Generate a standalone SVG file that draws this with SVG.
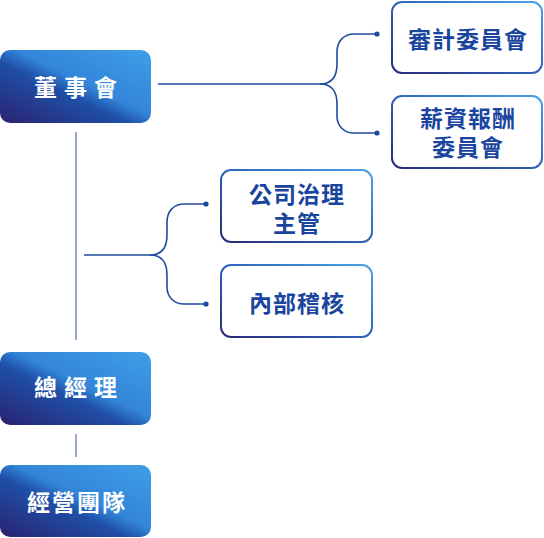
<svg xmlns="http://www.w3.org/2000/svg" width="544" height="538" viewBox="0 0 544 538">
<defs>
<linearGradient id="gFill" x1="0" y1="1" x2="1" y2="0">
<stop offset="0" stop-color="#2b2270"/>
<stop offset="0.42" stop-color="#1e4fa6"/>
<stop offset="0.55" stop-color="#3385d8"/>
<stop offset="1" stop-color="#3f9fe8"/>
</linearGradient>
<linearGradient id="gStroke" x1="0" y1="1" x2="1" y2="0">
<stop offset="0" stop-color="#2a2a78"/>
<stop offset="0.5" stop-color="#2f63b8"/>
<stop offset="1" stop-color="#4aa3ea"/>
</linearGradient>
<style>
.dark{fill:url(#gFill);}
.light{fill:#ffffff;stroke:url(#gStroke);stroke-width:2;}
.wt{fill:#ffffff;font-family:"Noto Sans CJK TC","Noto Sans CJK SC",sans-serif;font-weight:700;font-size:23px;text-anchor:middle;dominant-baseline:central;}
.bt{fill:#1a459e;font-family:"Noto Sans CJK TC","Noto Sans CJK SC",sans-serif;font-weight:700;font-size:23px;text-anchor:middle;dominant-baseline:central;}
.ln{fill:none;stroke:#1f4c9e;stroke-width:1.6;}
.vl{fill:none;stroke:#6f84b8;stroke-width:1.4;}
.dot{fill:#1a4a9e;}
</style>
</defs>
<g id="connectors">
<path class="vl" d="M76,132 V340"/>
<path class="vl" d="M76,434 V457"/>
<path class="ln" d="M158,84 H320"/>
<path class="ln" d="M320,84 C332,84 337,76 337,64 V52 C337,41 344,34 354,34 H377"/>
<path class="ln" d="M320,84 C332,84 337,92 337,104 V116 C337,126 344,133 354,133 H377"/>
<circle class="dot" cx="377" cy="34" r="2.6"/>
<circle class="dot" cx="377" cy="133" r="2.6"/>
<path class="ln" d="M84,255 H150"/>
<path class="ln" d="M150,255 C162,255 167,247 167,235 V222 C167,211 174,204 184,204 H206"/>
<path class="ln" d="M150,255 C162,255 167,263 167,275 V287 C167,297 174,304 184,304 H206"/>
<circle class="dot" cx="206" cy="204" r="2.6"/>
<circle class="dot" cx="206" cy="304" r="2.6"/>
</g>
<g id="board">
<rect class="dark" x="0" y="50" width="151" height="73" rx="10"/>
<text class="wt" x="79" y="86" letter-spacing="7">董事會</text>
</g>
<g id="audit">
<rect class="light" x="392" y="2" width="150" height="71" rx="10"/>
<text class="bt" x="468" y="38" letter-spacing="1">審計委員會</text>
</g>
<g id="remuneration">
<rect class="light" x="392" y="96" width="150" height="72" rx="10"/>
<text class="bt" x="468" y="117" letter-spacing="1">薪資報酬</text>
<text class="bt" x="468" y="146" letter-spacing="1">委員會</text>
</g>
<g id="governance">
<rect class="light" x="221" y="170" width="151" height="72" rx="10"/>
<text class="bt" x="297" y="193" letter-spacing="1">公司治理</text>
<text class="bt" x="297" y="222" letter-spacing="1">主管</text>
</g>
<g id="audit-internal">
<rect class="light" x="221" y="265" width="151" height="72" rx="10"/>
<text class="bt" x="297" y="302" letter-spacing="1">內部稽核</text>
</g>
<g id="gm">
<rect class="dark" x="0" y="352" width="151" height="73" rx="10"/>
<text class="wt" x="79" y="386" letter-spacing="7">總經理</text>
</g>
<g id="team">
<rect class="dark" x="0" y="465" width="151" height="72" rx="10"/>
<text class="wt" x="77" y="501" letter-spacing="2">經營團隊</text>
</g>
</svg>
